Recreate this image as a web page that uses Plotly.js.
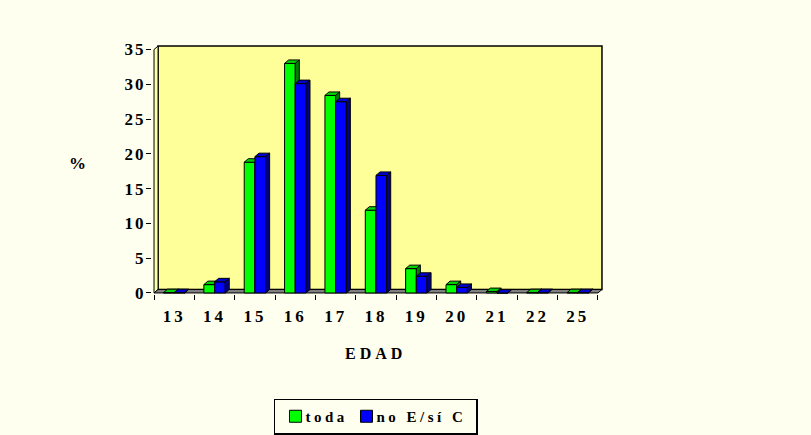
<!DOCTYPE html>
<html>
<head>
<meta charset="utf-8">
<script src="https://cdn.plot.ly/plotly-3.0.1.min.js"></script>
<style>
  html, body { margin: 0; padding: 0; background: #FFFFF0; }
  #chart { width: 811px; height: 435px; }
  .xtick text { letter-spacing: 3px; }
  .ytick text { letter-spacing: 2px; }
  .legendtext { letter-spacing: 3.5px; transform: translateX(-10px); }
  .annotation-text { letter-spacing: 4px; }
</style>
</head>
<body>
<div id="chart"></div>
<script>
// Age groups (EDAD) and percentage per group for each series
const ages = ['13', '14', '15', '16', '17', '18', '19', '20', '21', '22', '25'];
const toda = [0.05, 1.2, 18.8, 33.0, 28.4, 11.9, 3.5, 1.2, 0.2, 0.05, 0.05];
const noESiC = [0.05, 1.6, 19.6, 30.1, 27.5, 16.9, 2.4, 0.8, 0, 0.05, 0.05];
const yTicks = [0, 5, 10, 15, 20, 25, 30, 35];

// 3-D look: bar width and depth offsets, in axis units
const BAR_W = 0.265;
const DX = 0.1;
const DY = 0.5;
const Y_MAX = 35;
const idx = ages.map((_, i) => i);
const FIRST = -0.5, LAST = ages.length - 0.5;

const FONT = 'Liberation Serif, Times New Roman, serif';

// Top face (parallelogram) of each bar
function topFaces(vals, off) {
  const xs = [], ys = [];
  vals.forEach((v, i) => {
    const x0 = i + off, x1 = x0 + BAR_W;
    xs.push(x0, x1, x1 + DX, x0 + DX, x0, null);
    ys.push(v, v, v + DY, v + DY, v, null);
  });
  return { xs, ys };
}

// Right-hand side face of each bar
function sideFaces(vals, off) {
  const xs = [], ys = [];
  vals.forEach((v, i) => {
    const x1 = i + off + BAR_W;
    xs.push(x1, x1 + DX, x1 + DX, x1, x1, null);
    ys.push(0, DY, v + DY, v, 0, null);
  });
  return { xs, ys };
}

function seriesTraces(name, vals, off, front, top, side, xa, ya, legendWidth) {
  const t = topFaces(vals, off);
  const s = sideFaces(vals, off);
  const edge = { color: '#000000', width: 1 };
  return [
    {
      type: 'bar', name: name, x: idx, y: vals,
      width: BAR_W, offset: off, legendwidth: legendWidth,
      marker: { color: front, line: edge },
      xaxis: xa, yaxis: ya, hoverinfo: 'y'
    },
    {
      type: 'scatter', mode: 'lines', x: t.xs, y: t.ys,
      fill: 'toself', fillcolor: top, line: edge,
      showlegend: false, hoverinfo: 'skip', xaxis: xa, yaxis: ya
    },
    {
      type: 'scatter', mode: 'lines', x: s.xs, y: s.ys,
      fill: 'toself', fillcolor: side, line: edge,
      showlegend: false, hoverinfo: 'skip', xaxis: xa, yaxis: ya
    }
  ];
}

const data = [].concat(
  seriesTraces('toda', toda, -BAR_W, '#00FF00', '#00D000', '#008000', 'x', 'y', 26),
  seriesTraces('no E/sí C', noESiC, 0, '#0000FF', '#0000D0', '#000080', 'x2', 'y2', 85)
);

const xRange = [FIRST - 0.05, LAST + DX + 0.05];
const yRange = [-0.15, Y_MAX + DY + 0.15];
const tickFont = { family: FONT, size: 17, color: '#000000', weight: 'bold' };

// Back wall, left wall and floor
const shapes = [
  {
    type: 'rect', xref: 'x', yref: 'y', layer: 'below',
    x0: FIRST + DX, x1: LAST + DX, y0: DY, y1: Y_MAX + DY,
    fillcolor: '#FFFF99', line: { color: '#000000', width: 1.5 }
  },
  {
    type: 'path', xref: 'x', yref: 'y', layer: 'below',
    path: `M ${FIRST},0 L ${FIRST + DX},${DY} L ${FIRST + DX},${Y_MAX + DY} L ${FIRST},${Y_MAX} Z`,
    fillcolor: '#FFFFAA', line: { color: '#000000', width: 1 }
  },
  {
    type: 'path', xref: 'x', yref: 'y', layer: 'below',
    path: `M ${FIRST},0 L ${LAST},0 L ${LAST + DX},${DY} L ${FIRST + DX},${DY} Z`,
    fillcolor: '#808080', line: { color: '#000000', width: 1 }
  }
];

const layout = {
  width: 811, height: 435,
  paper_bgcolor: '#FFFFF0',
  plot_bgcolor: 'rgba(0,0,0,0)',
  margin: { l: 152, r: 207, t: 45, b: 141, pad: 0, autoexpand: false },
  barmode: 'overlay',
  showlegend: true,
  xaxis: {
    range: xRange, tickmode: 'array', tickvals: idx, ticktext: ages,
    ticks: '', ticklabelstandoff: 10,
    showline: false, showgrid: false, zeroline: false, fixedrange: true,
    tickfont: tickFont,
    minor: { tickmode: 'linear', tick0: FIRST, dtick: 1, ticks: 'outside', ticklen: 5, tickwidth: 1, tickcolor: '#000000', showgrid: false }
  },
  yaxis: {
    range: yRange, tickmode: 'array', tickvals: yTicks,
    ticks: 'outside', ticklen: 5, tickwidth: 1, tickcolor: '#000000',
    ticklabelstandoff: -3,
    showline: false, showgrid: false, zeroline: false, fixedrange: true,
    tickfont: tickFont
  },
  xaxis2: { range: xRange, overlaying: 'x', visible: false, fixedrange: true },
  yaxis2: { range: yRange, overlaying: 'y', visible: false, fixedrange: true },
  shapes: shapes,
  annotations: [
    {
      text: '%', xref: 'paper', yref: 'paper', x: -0.161, y: 0.526,
      xanchor: 'center', yanchor: 'middle', showarrow: false,
      font: { family: FONT, size: 17, color: '#000000', weight: 'bold' }
    },
    {
      text: 'EDAD', xref: 'paper', yref: 'paper', x: 0.495, y: -0.239,
      xanchor: 'center', yanchor: 'middle', showarrow: false,
      font: { family: FONT, size: 16, color: '#000000', weight: 'bold' }
    }
  ],
  legend: {
    orientation: 'h', x: 0.2699, y: -0.4197, xanchor: 'left', yanchor: 'top',
    bgcolor: '#FFFFF0', bordercolor: '#000000', borderwidth: 1.5,
    font: { family: FONT, size: 15, color: '#000000', weight: 'bold' },
    traceorder: 'normal'
  }
};

Plotly.newPlot('chart', data, layout, { displayModeBar: false, staticPlot: true });
</script>
</body>
</html>
